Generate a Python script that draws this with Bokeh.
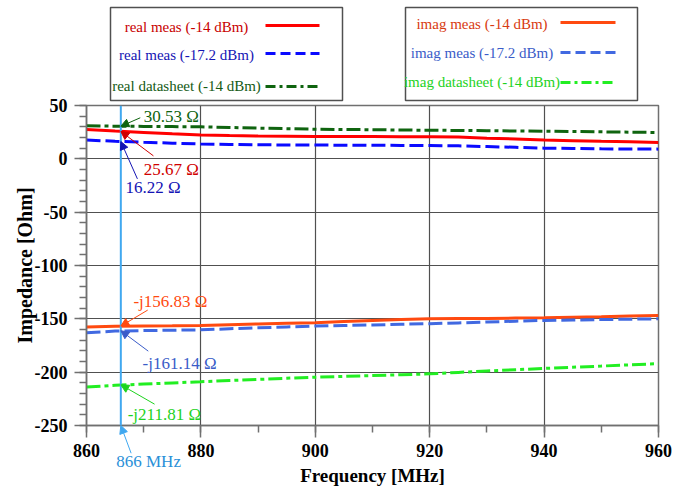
from bokeh.plotting import figure
from bokeh.models import (Label, Arrow, NormalHead, Span, GridBox,
                          SingleIntervalTicker, Range1d)
from bokeh.core.properties import value
from bokeh.embed import file_html
from bokeh.resources import INLINE

# ---------------- data ----------------
freq = [860, 865, 870, 875, 880, 885, 890, 895, 900, 905, 910,
        915, 920, 925, 930, 935, 940, 945, 950, 955, 960]

real_meas_14 = [27.5, 26.0, 24.8, 23.5, 22.3, 21.8, 21.4, 21.2, 21.0, 21.0, 20.9,
                20.8, 20.7, 20.4, 19.4, 18.6, 17.6, 17.0, 16.4, 15.9, 15.3]
real_meas_17 = [17.6, 16.5, 15.5, 14.7, 13.9, 13.5, 13.2, 13.0, 12.9, 12.8, 12.7,
                12.6, 12.5, 12.2, 11.5, 10.8, 10.0, 9.7, 9.4, 9.2, 9.1]
real_ds = [31.0, 30.6, 30.4, 30.2, 30.0, 29.4, 28.8, 28.3, 27.8, 27.5, 27.3,
           27.0, 26.8, 26.6, 26.4, 26.1, 25.9, 25.6, 25.3, 25.0, 24.7]
imag_meas_14 = [-157.7, -157.0, -156.7, -156.5, -156.2, -155.5, -154.8, -154.2, -153.7, -152.6, -151.5,
                -150.7, -150.0, -149.8, -149.6, -149.3, -149.0, -148.5, -148.0, -147.3, -146.8]
imag_meas_17 = [-163.0, -161.5, -161.0, -160.7, -160.3, -159.3, -158.4, -157.6, -156.8, -156.2, -155.7,
                -155.1, -154.6, -153.8, -153.0, -152.2, -151.5, -151.1, -150.7, -150.3, -150.0]
imag_ds = [-214.0, -212.3, -211.2, -210.1, -209.0, -207.8, -206.8, -205.7, -204.7, -204.0, -203.2,
           -202.4, -201.6, -200.2, -198.9, -197.7, -196.5, -195.4, -194.3, -193.1, -192.0]

series_names = ["real meas (-14 dBm)", "real meas (-17.2 dBm)", "real datasheet (-14 dBm)",
                "imag meas (-14 dBm)", "imag meas (-17.2 dBm)", "imag datasheet (-14 dBm)"]
series_values = [real_meas_14, real_meas_17, real_ds, imag_meas_14, imag_meas_17, imag_ds]

marker_freq = 866
marker_values = [30.53, 25.67, 16.22, -156.83, -161.14, -211.81]
marker_texts = ["30.53 \u03a9", "25.67 \u03a9", "16.22 \u03a9",
                "-j156.83 \u03a9", "-j161.14 \u03a9", "-j211.81 \u03a9"]
marker_label = "866 MHz"

x_min, x_max = 860, 960
y_min, y_max = -250, 50
x_ticks_interval = 20
y_ticks_interval = 50
y_tick_values = [50, 0, -50, -100, -150, -200, -250]
y_tick_labels = ["50", "0", "-50", "-100", "-150", "-200", "-250"]

# ---------------- layout / styles ----------------
W, H = 686, 489
B_LEFT, B_RIGHT, B_TOP, B_BOTTOM = 86, 28, 105, 64
line_colors = ["#ff0000", "#0a0aff", "#0f640f", "#ff4a10", "#4169e1", "#22ee22"]
text_colors = ["#c80000", "#1414b4", "#145a14", "#d83a10", "#3a5cc8", "#1ed21e"]
note_colors = ["#0f640f", "#d00000", "#1414b4", "#ff4a10", "#3a5cc8", "#1ed21e"]
dashes = ["solid", "14 5", "14 4 4 4", "solid", "14 5", "14 4 4 4"]
legend_dashes = ["solid", "10 5", "10 4 3 4", "solid", "10 5", "10 4 3 4"]
MARK_COLOR = "#40a8f0"
SERIF = "Liberation Serif"


def no_frame_align(fig):
    if "frame_align" in type(fig).properties():
        fig.frame_align = False


p = figure(width=W, height=H, output_backend="svg", toolbar_location=None,
           x_range=Range1d(x_min, x_max), y_range=Range1d(y_min, y_max),
           min_border_left=B_LEFT, min_border_right=B_RIGHT,
           min_border_top=B_TOP, min_border_bottom=B_BOTTOM)
no_frame_align(p)
p.background_fill_color = "white"
p.border_fill_color = "white"
p.outline_line_color = "#707070"
p.outline_line_width = 1.5

for vals, c, d in zip(series_values, line_colors, dashes):
    p.line(freq, vals, line_color=c, line_width=3, line_dash=d)

# axes
p.xaxis.ticker = SingleIntervalTicker(interval=x_ticks_interval, num_minor_ticks=2)
p.yaxis.ticker = SingleIntervalTicker(interval=y_ticks_interval, num_minor_ticks=5)
p.yaxis.major_label_overrides = dict(zip(y_tick_values, y_tick_labels))
for ax in (p.xaxis[0], p.yaxis[0]):
    ax.axis_line_color = "#707070"
    ax.axis_line_width = 1.5
    ax.major_tick_line_color = "#707070"
    ax.minor_tick_line_color = "#707070"
    ax.major_tick_line_width = 1.5
    ax.minor_tick_line_width = 1.5
    ax.major_tick_in = 0
    ax.minor_tick_in = 0
    ax.major_tick_out = 12
    ax.minor_tick_out = 7
    ax.major_label_text_font = SERIF
    ax.major_label_text_font_style = "bold"
    ax.major_label_text_font_size = "18px"
    ax.major_label_text_color = "black"
    ax.axis_label_text_font = SERIF
    ax.axis_label_text_font_style = "bold"
    ax.axis_label_text_color = "black"
p.xaxis.axis_label_text_font_size = "19px"
p.yaxis.axis_label_text_font_size = "20px"
p.xaxis.major_label_standoff = 6
p.yaxis.major_label_standoff = 7
p.xaxis.axis_label = "Frequency [MHz]"
p.yaxis.axis_label = "Impedance [Ohm]"
p.xaxis.axis_label_standoff = 5
p.yaxis.axis_label_standoff = -4

p.xgrid.ticker = p.xaxis.ticker
p.ygrid.ticker = p.yaxis.ticker
p.grid.grid_line_color = "#505050"
p.grid.grid_line_width = 1.2
p.grid.grid_line_alpha = 1.0

# 866 MHz marker line
p.add_layout(Span(location=marker_freq, dimension="height", line_color=MARK_COLOR, line_width=2))

# annotation texts and arrows inside the plot
note_text_pos = [(870.0, 39.4), (870.0, -10.3), (866.8, -27.2),
                 (868.2, -133.3), (869.8, -191.5), (867.2, -240.0)]
note_arrow_start = [(869.4, 38.5), (871.7, 2.8), (868.9, -18.8),
                    (870.7, -141.8), (870.8, -180.3), (871.9, -230.0)]
for val, txt, c, (tx, ty), (sx, sy) in zip(marker_values, marker_texts, note_colors,
                                           note_text_pos, note_arrow_start):
    p.add_layout(Label(x=tx, y=ty, text=txt, text_color=c, text_font=SERIF,
                       text_font_size="17px", text_baseline="middle", text_align="left"))
    p.add_layout(Arrow(x_start=sx, y_start=sy, x_end=marker_freq, y_end=val,
                       line_color=c, line_width=1,
                       end=NormalHead(size=8, fill_color=c, line_color=c)))

# ---------------- transparent overlay with the same data mapping ----------------
px_per_x = (W - B_LEFT - B_RIGHT) / (x_max - x_min)
px_per_y = (H - B_TOP - B_BOTTOM) / (y_max - y_min)


def px_x(px):
    return x_min + (px - B_LEFT) / px_per_x


def px_y(py):
    return y_max + (B_TOP - py) / px_per_y


q = figure(width=W, height=H, output_backend="svg", toolbar_location=None,
           x_range=Range1d(px_x(0), px_x(W)), y_range=Range1d(px_y(H), px_y(0)),
           x_axis_location=None, y_axis_location=None, min_border=0)
no_frame_align(q)
q.title.visible = False
q.grid.visible = False
q.outline_line_color = None
q.background_fill_alpha = 0
q.border_fill_alpha = 0

q.add_layout(Label(x=865.2, y=-284, text=marker_label, text_color="#2a90d8", text_font=SERIF,
                   text_font_size="17px", text_baseline="middle", text_align="left"))
q.add_layout(Arrow(x_start=867.8, y_start=-276, x_end=marker_freq, y_end=y_min,
                   line_color=MARK_COLOR, line_width=1,
                   end=NormalHead(size=8, fill_color=MARK_COLOR, line_color=MARK_COLOR)))

# legend boxes above the plot (pixel layout converted to the overlay mapping)
box_lr = [(110, 342), (405, 637)]
box_tb = (7, 100)
q.quad(left=[px_x(l) for l, r in box_lr], right=[px_x(r) for l, r in box_lr],
       top=[px_y(box_tb[0])] * 2, bottom=[px_y(box_tb[1])] * 2,
       fill_color="white", line_color="#505050", line_width=1.5)

legend_text_x = [186, 186, 186, 481.5, 481.5, 481.5]
legend_text_y = [26, 54, 85, 23, 52, 81]
legend_line_y = [25, 53, 86, 22, 52, 82]
legend_line_x = [(265, 319)] * 3 + [(560, 615)] * 3
for name, tc, lc, d, tx, ty, ly, (lx0, lx1) in zip(series_names, text_colors, line_colors,
                                                    legend_dashes, legend_text_x, legend_text_y,
                                                    legend_line_y, legend_line_x):
    q.text(x=[px_x(tx)], y=[px_y(ty)], text=[name], text_color=tc,
           text_font=value(SERIF), text_font_size="15px",
           text_align="center", text_baseline="middle")
    q.line(x=[px_x(lx0), px_x(lx1)], y=[px_y(ly)] * 2, line_color=lc, line_width=3,
           line_dash=d)

layout = GridBox(children=[(p, 0, 0), (q, 0, 0)], spacing=0)
open("out.html", "w").write(file_html(layout, INLINE))
